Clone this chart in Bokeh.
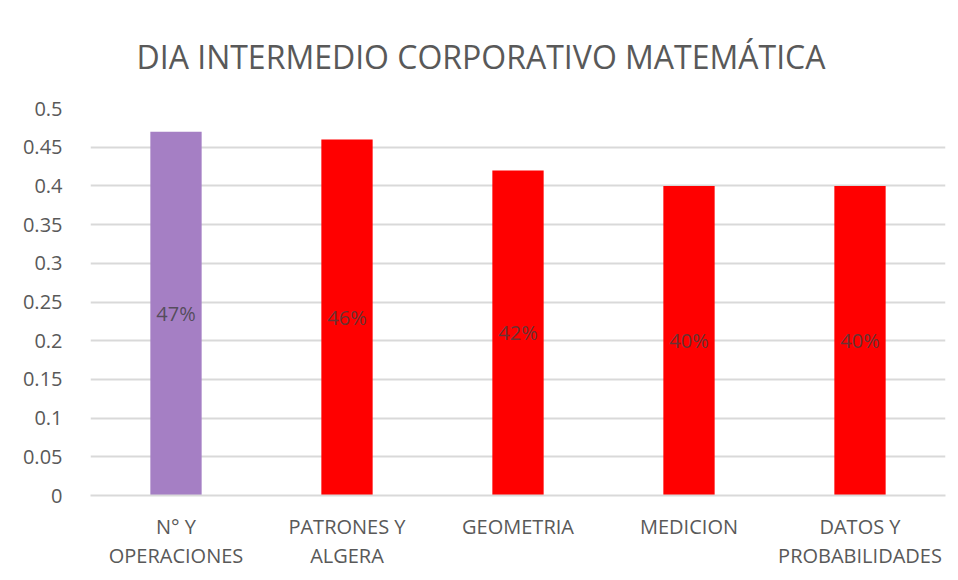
from bokeh.plotting import figure
from bokeh.models import ColumnDataSource, FixedTicker, CustomJSTickFormatter, Range1d
from bokeh.core.properties import value
from bokeh.embed import file_html
from bokeh.resources import INLINE

categories = ["N° Y\nOPERACIONES", "PATRONES Y\nALGERA", "GEOMETRIA", "MEDICION", "DATOS Y\nPROBABILIDADES"]
values = [0.47, 0.46, 0.42, 0.40, 0.40]
colors = ["#A57FC4", "#FF0000", "#FF0000", "#FF0000", "#FF0000"]
labels = ["47%", "46%", "42%", "40%", "40%"]
y_ticks = [0, 0.05, 0.1, 0.15, 0.2, 0.25, 0.3, 0.35, 0.4, 0.45, 0.5]

FONT = "Open Sans"

src = ColumnDataSource(dict(cat=categories, val=values, col=colors, lab=labels,
                            mid=[v / 2 for v in values]))

p = figure(x_range=categories, y_range=Range1d(0, 0.5), width=950, height=580,
           output_backend="svg", toolbar_location=None,
           min_border_left=90, min_border_right=5, min_border_bottom=85, min_border_top=108)

p.title.text = "DIA INTERMEDIO CORPORATIVO MATEMÁTICA"
p.title.align = "left"
p.title.offset = 46
p.title.text_font = FONT
p.title.text_font_size = "32px"
p.title.text_font_style = "normal"
p.title.text_color = "#595959"
p.title.standoff = 61

p.vbar(x="cat", top="val", width=0.30, fill_color="col", line_color=None, source=src)
p.text(x="cat", y="mid", text="lab", source=src, text_align="center", text_baseline="middle",
       text_font=value(FONT), text_font_size="20px", text_color="#404040", text_alpha=0.8)

p.outline_line_color = None
p.border_fill_color = "white"
p.background_fill_color = "white"

p.yaxis.ticker = FixedTicker(ticks=y_ticks)
p.yaxis.formatter = CustomJSTickFormatter(code="return (Math.round(tick*100)/100).toString();")
p.yaxis.axis_line_color = None
p.yaxis.major_tick_line_color = None
p.yaxis.minor_tick_line_color = None
p.yaxis.major_label_text_font = FONT
p.yaxis.major_label_text_font_size = "20px"
p.yaxis.major_label_text_color = "#595959"
p.yaxis.major_label_standoff = 22

p.xaxis.axis_line_color = "#D9D9D9"
p.xaxis.axis_line_width = 2
p.xaxis.major_tick_line_color = None
p.xaxis.minor_tick_line_color = None
p.xaxis.major_label_text_font = FONT
p.xaxis.major_label_text_font_size = "20px"
p.xaxis.major_label_text_line_height = 1.1
p.xaxis.major_label_text_color = "#595959"
p.xaxis.major_label_standoff = 11

p.xgrid.grid_line_color = None
p.ygrid.grid_line_color = "#D9D9D9"
p.ygrid.grid_line_width = 2
p.ygrid.ticker = FixedTicker(ticks=y_ticks)

open("out.html", "w").write(file_html(p, INLINE))
